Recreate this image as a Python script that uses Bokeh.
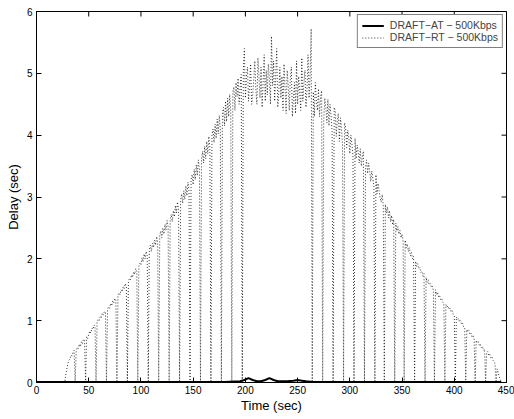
from bokeh.plotting import figure
from bokeh.models import Range1d, FixedTicker, Legend, LegendItem
from bokeh.embed import file_html
from bokeh.resources import INLINE
import math

# ---- data ----
x_ticks = [0, 50, 100, 150, 200, 250, 300, 350, 400, 450]
y_ticks = [0, 1, 2, 3, 4, 5, 6]

# DRAFT-AT (solid, near zero)
at_time = [0, 180, 195, 199, 203, 207, 211, 215, 219, 223, 227, 231, 240, 246, 250, 254, 258, 265, 300, 445]
at_delay = [0.01, 0.01, 0.02, 0.04, 0.07, 0.04, 0.02, 0.02, 0.04, 0.07, 0.04, 0.02, 0.02, 0.03, 0.04, 0.03,
            0.02, 0.01, 0.01, 0.01]

# DRAFT-RT (dotted), one sample per second from t = 20 s
rt_start = 20
rt_delay = [
    0, 0, 0, 0, 0, 0, 0, 0, 0.12, 0.22,
    0.30, 0.36, 0.38, 0.44, 0.43, 0.49, 0.52, 0, 0.50, 0.57,
    0.55, 0.62, 0.58, 0.66, 0.63, 0.70, 0.68, 0, 0.74, 0.71,
    0.78, 0.83, 0.80, 0.88, 0.86, 0.93, 0.91, 0, 0.97, 1.02,
    1.00, 1.07, 1.05, 1.12, 1.09, 1.15, 1.13, 0, 1.18, 1.22,
    1.20, 1.28, 1.24, 1.32, 1.29, 1.36, 1.33, 0, 1.41, 1.45,
    1.42, 1.50, 1.47, 1.55, 1.52, 1.60, 1.56, 0, 1.64, 1.68,
    1.66, 1.74, 1.70, 1.79, 1.75, 1.84, 1.80, 0, 1.88, 1.93,
    1.90, 2.02, 1.95, 2.08, 2.00, 2.12, 2.05, 0, 2.14, 2.22,
    2.12, 2.25, 2.18, 2.30, 2.22, 2.36, 2.27, 0, 2.38, 2.45,
    2.34, 2.50, 2.40, 2.56, 2.46, 2.62, 2.52, 0, 2.64, 2.72,
    2.60, 2.78, 2.68, 2.86, 2.74, 2.92, 2.80, 0, 2.95, 3.05,
    2.90, 3.10, 2.96, 3.18, 3.02, 3.24, 3.10, 0, 3.28, 3.36,
    3.20, 3.45, 3.28, 3.52, 3.35, 3.60, 3.44, 0, 3.62, 3.74,
    3.55, 3.82, 3.62, 3.90, 3.70, 3.98, 3.78, 0, 4.00, 4.10,
    3.88, 4.18, 3.95, 4.26, 4.02, 4.32, 4.10, 0, 4.36, 4.45,
    4.15, 4.55, 4.22, 4.60, 4.30, 4.66, 4.38, 0, 4.70, 4.78,
    4.40, 4.85, 4.62, 4.92, 4.50, 4.78, 4.98, 0, 5.05, 5.40,
    4.60, 4.95, 5.10, 4.55, 4.80, 5.15, 4.50, 4.65, 4.90, 5.20,
    4.75, 4.50, 5.25, 4.95, 4.60, 5.10, 4.45, 4.85, 5.30, 4.55,
    5.05, 4.65, 5.15, 4.90, 4.50, 5.60, 4.80, 5.20, 4.55, 4.95,
    5.40, 4.45, 4.70, 5.10, 4.60, 4.95, 4.40, 5.15, 4.75, 4.35,
    5.05, 4.80, 4.40, 4.90, 5.10, 4.30, 4.60, 4.85, 4.35, 5.20,
    4.50, 4.95, 4.70, 4.40, 5.25, 4.55, 4.85, 5.05, 4.45, 4.75,
    5.30, 4.60, 5.00, 5.72, 0, 4.70, 4.30, 4.85, 4.55, 4.40,
    4.75, 4.30, 4.62, 4.72, 0, 4.25, 4.60, 4.45, 4.20, 4.58,
    4.15, 4.50, 4.32, 4.05, 0, 4.45, 4.40, 3.98, 4.25, 4.35,
    3.90, 4.28, 4.10, 3.85, 0, 4.20, 4.12, 3.80, 4.08, 3.95,
    3.70, 4.00, 3.85, 3.68, 0, 3.95, 3.62, 3.84, 3.72, 3.55,
    3.78, 3.50, 3.66, 3.74, 0, 3.46, 3.60, 3.38, 3.55, 3.42,
    3.25, 3.42, 3.30, 3.18, 0, 3.36, 3.05, 3.22, 3.10, 2.98,
    2.92, 3.04, 2.86, 0, 2.88, 2.74, 2.84, 2.66, 2.78, 2.60,
    2.70, 2.55, 2.64, 0, 2.58, 2.45, 2.52, 2.40, 2.46, 2.34,
    2.40, 2.28, 0, 2.30, 2.18, 2.24, 2.12, 2.18, 2.05, 2.10,
    2.00, 2.04, 0, 1.96, 1.88, 1.92, 1.84, 1.86, 1.78, 1.80,
    1.72, 1.76, 0, 1.70, 1.62, 1.66, 1.58, 1.60, 1.54, 1.56,
    1.48, 0, 1.50, 1.42, 1.46, 1.38, 1.40, 1.34, 1.36, 1.30,
    1.28, 0, 1.26, 1.22, 1.24, 1.18, 1.20, 1.14, 1.16, 1.10,
    1.08, 0, 1.06, 1.02, 1.04, 0.98, 1.00, 0.94, 0.96, 0.90,
    0.88, 0, 0.86, 0.82, 0.84, 0.78, 0.80, 0.74, 0.76, 0.70,
    0, 0.68, 0.64, 0.66, 0.60, 0.62, 0.56, 0.58, 0.52, 0.54,
    0, 0.48, 0.50, 0.44, 0.46, 0.40, 0.42, 0.36, 0.34, 0.30,
    0, 0.22, 0.16, 0.10, 0.05, 0,
]
rt_time = [rt_start + i for i in range(len(rt_delay))]

legend_labels = ["DRAFT\u2212AT \u2212 500Kbps", "DRAFT\u2212RT \u2212 500Kbps"]
x_label = "Time (sec)"
y_label = "Delay (sec)"

FONT = "Liberation Sans"
X_MIN, X_MAX, Y_MIN, Y_MAX = 0, 450, 0, 6

p = figure(width=514, height=419, x_range=Range1d(X_MIN, X_MAX), y_range=Range1d(Y_MIN, Y_MAX),
           output_backend="svg", toolbar_location=None,
           min_border_left=36, min_border_right=8, min_border_top=11, min_border_bottom=37)
p.background_fill_color = "white"
p.border_fill_color = "white"
p.xgrid.visible = False
p.ygrid.visible = False
p.outline_line_color = "black"
p.outline_line_width = 1

for ax, ticks in ((p.xaxis[0], x_ticks), (p.yaxis[0], y_ticks)):
    ax.ticker = FixedTicker(ticks=ticks)
    ax.major_tick_in = 5
    ax.major_tick_out = 0
    ax.minor_tick_line_color = None
    ax.axis_line_color = "black"
    ax.major_tick_line_color = "black"
    ax.major_label_text_font = FONT
    ax.major_label_text_color = "black"
    ax.major_label_text_font_size = "10px"
    ax.axis_label_text_font = FONT
    ax.axis_label_text_font_size = "13px"
    ax.axis_label_text_font_style = "normal"
    ax.axis_label_text_color = "black"

p.xaxis.axis_label = x_label
p.yaxis.axis_label = y_label
p.xaxis.major_label_standoff = 3
p.xaxis.axis_label_standoff = 1
p.yaxis.major_label_standoff = 4
p.yaxis.axis_label_standoff = 3

# inward ticks on the top and right edges (clipped to the frame, so only half shows)
p.scatter(x_ticks, [Y_MAX] * len(x_ticks), marker="dash", angle=math.pi / 2, size=10,
          line_color="black", line_width=1)
p.scatter([X_MAX] * len(y_ticks), y_ticks, marker="dash", size=10,
          line_color="black", line_width=1)

r_at = p.line(at_time, at_delay, line_color="black", line_width=2)
r_rt = p.line(rt_time, rt_delay, line_color="black", line_width=0.8, line_dash="1 2")

legend = Legend(items=[LegendItem(label=legend_labels[0], renderers=[r_at]),
                       LegendItem(label=legend_labels[1], renderers=[r_rt])],
                location="top_right")
legend.border_line_color = "black"
legend.border_line_width = 1
legend.background_fill_color = "white"
legend.background_fill_alpha = 1
legend.label_text_font = FONT
legend.label_text_font_size = "10.5px"
legend.glyph_width = 22
legend.glyph_height = 11
legend.label_height = 11
legend.spacing = 0
legend.padding = 4
legend.margin = 3
legend.label_standoff = 6
p.add_layout(legend, "center")

open("out.html", "w").write(file_html(p, INLINE))
